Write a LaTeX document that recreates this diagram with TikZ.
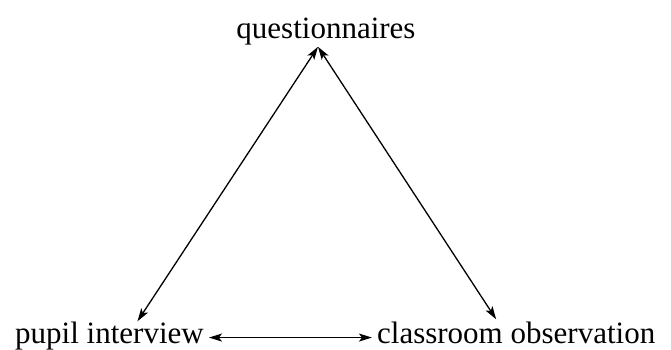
\documentclass[tikz,border=0pt]{standalone}
\usepackage{fontspec}
\setmainfont{Liberation Serif}
\usetikzlibrary{arrows.meta, positioning}

\begin{document}
\begin{tikzpicture}[
  x=1pt, y=-1pt,
  node distance=163pt,
  lbl/.style={inner sep=5pt, font=\fontsize{31}{36}\selectfont},
  arrow/.style={{Stealth[length=13pt, width=8pt, inset=3pt]}-{Stealth[length=13pt, width=8pt, inset=3pt]}, line width=1.3pt}
]
\useasboundingbox (0,0) rectangle (671,349);

\node[lbl, anchor=base] (quest) at (326,38) {questionnaires};
\node[lbl, anchor=base west] (pupil) at (10,343) {pupil interview};
\node[lbl, base right=of pupil] (obs) {classroom observation};

% ends of the slanted arrows
\coordinate (apex) at ([xshift=-8pt, yshift=3pt]quest.south);
\coordinate (pupiltip) at ([xshift=28pt, yshift=-5pt]pupil.north);
\coordinate (obstip) at ([xshift=-20pt, yshift=-3pt]obs.north);

\draw[arrow] (apex) -- (pupiltip);
\draw[arrow] (apex) -- (obstip);
\draw[arrow] ([yshift=-2pt]pupil.east) -- ([yshift=-2pt]pupil.east -| obs.west);

\end{tikzpicture}
\end{document}
